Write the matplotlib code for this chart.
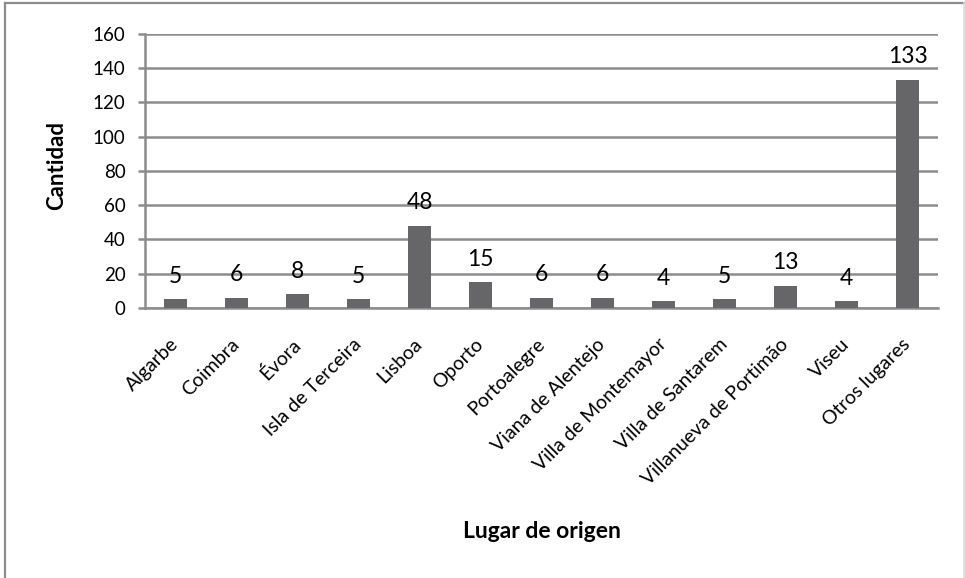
import matplotlib.pyplot as plt
from matplotlib.lines import Line2D

plt.rcParams['font.family'] = ['Lato', 'DejaVu Sans']

lugares = ['Algarbe', 'Coimbra', 'Évora', 'Isla de Terceira', 'Lisboa', 'Oporto',
           'Portoalegre', 'Viana de Alentejo', 'Villa de Montemayor',
           'Villa de Santarem', 'Villanueva de Portimão', 'Viseu', 'Otros lugares']
cantidad = [5, 6, 8, 5, 48, 15, 6, 6, 4, 5, 13, 4, 133]
yticks = [0, 20, 40, 60, 80, 100, 120, 140, 160]

grey = '#8c8c8c'
bar_color = '#666567'

fig = plt.figure(figsize=(9.65, 5.78), dpi=100)
ax = fig.add_axes([0.1503, 0.467, 0.8218, 0.4747])

x = range(len(lugares))
bars = ax.bar(x, cantidad, width=0.38, color=bar_color, zorder=3)
for rect, v in zip(bars, cantidad):
    ax.annotate(str(v), (rect.get_x() + rect.get_width() / 2, v),
                xytext=(0, 12), textcoords='offset points',
                ha='center', va='baseline', fontsize=16.5, color='black')

ax.set_ylim(0, 160)
ax.set_xlim(-0.5, len(lugares) - 0.5)
ax.set_yticks(yticks)
ax.yaxis.grid(True, color=grey, linewidth=1.8, zorder=0)
ax.set_axisbelow(True)

for side in ['top', 'right']:
    ax.spines[side].set_visible(False)
for side in ['left', 'bottom']:
    ax.spines[side].set_color(grey)
    ax.spines[side].set_linewidth(1.8)

ax.tick_params(axis='y', length=5, width=1.8, color=grey, labelsize=13.5, pad=9)
ax.tick_params(axis='x', length=0, pad=24)
ax.set_xticks(list(x))
ax.set_xticklabels(lugares, rotation=45, ha='right', va='center',
                   rotation_mode='anchor', fontsize=14)

fig.text(0.059, 1 - 166 / 578, 'Cantidad', rotation=90, ha='center', va='center',
         fontsize=16, fontweight='bold')
fig.text(0.5617, 1 - 532 / 578, 'Lugar de origen', ha='center', va='center',
         fontsize=16.5, fontweight='bold')

# chart frame: left and top in grey, right edge lighter
fig.add_artist(Line2D([0.0055, 0.0055], [0.0, 0.995], transform=fig.transFigure,
                      color=grey, linewidth=1.6))
fig.add_artist(Line2D([0.0055, 1.0], [0.995, 0.995], transform=fig.transFigure,
                      color=grey, linewidth=1.6))
fig.add_artist(Line2D([0.9985, 0.9985], [0.0, 0.995], transform=fig.transFigure,
                      color='#dcdcdc', linewidth=1.2))

fig.savefig('out.png', dpi=100)
